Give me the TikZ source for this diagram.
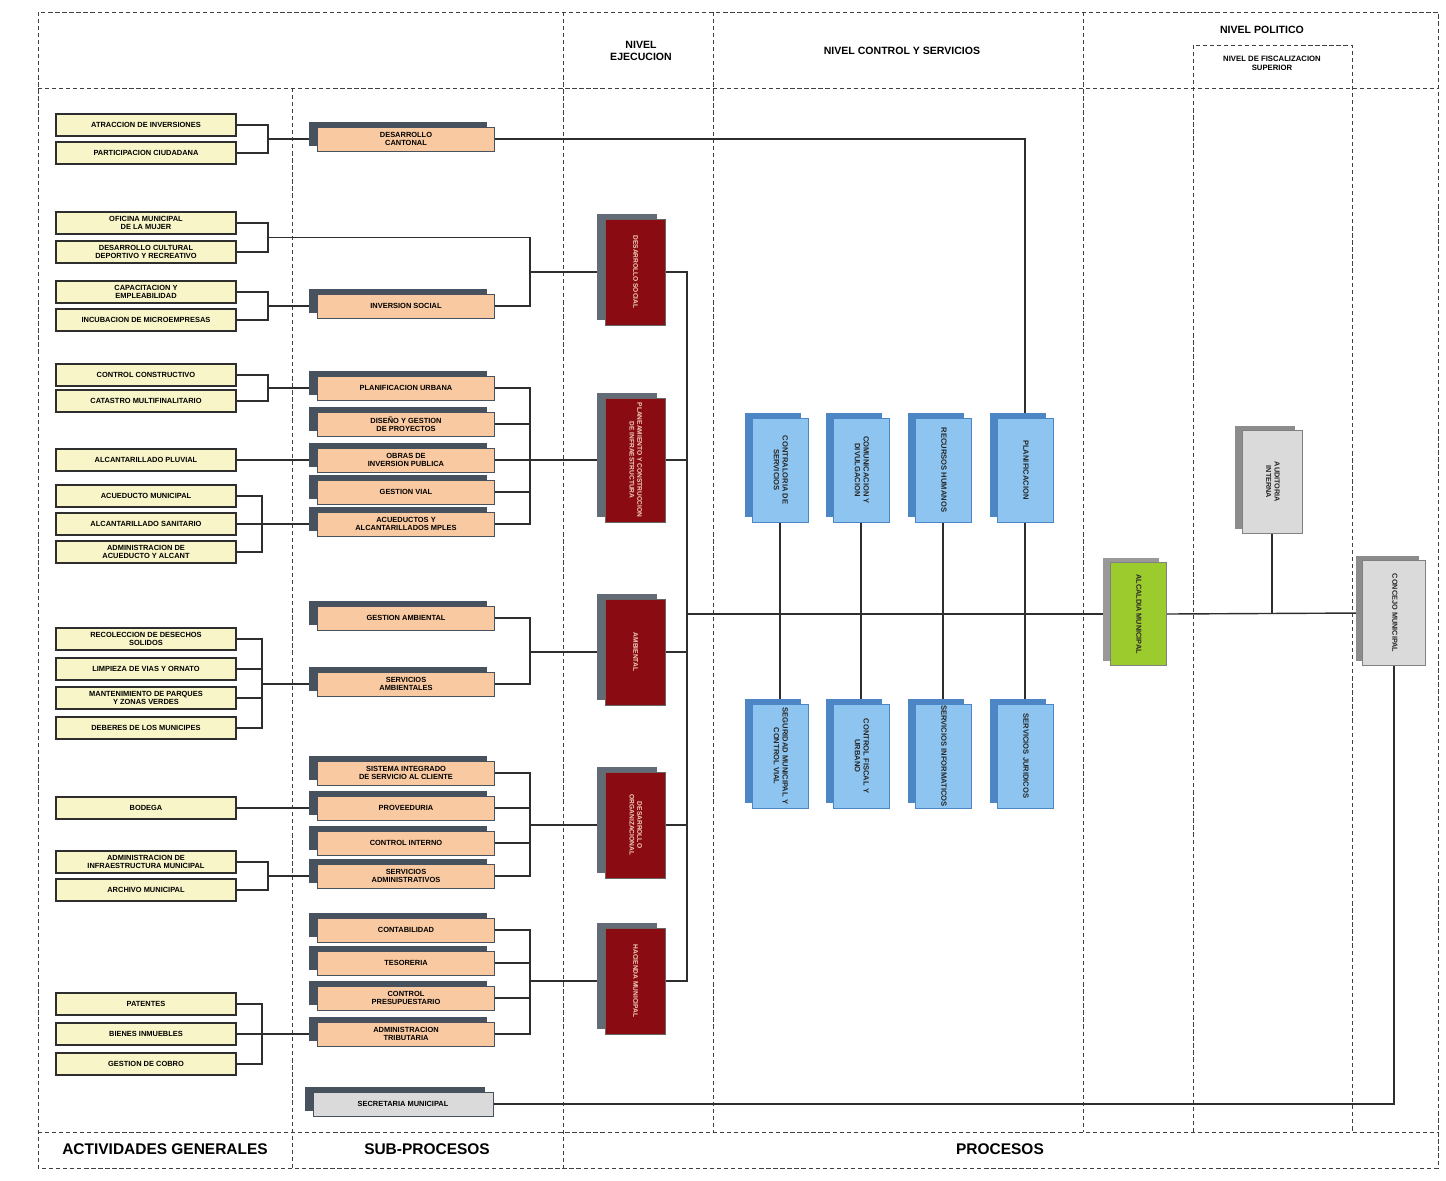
\documentclass[tikz,border=0pt]{standalone}
\usepackage{fontspec}
\setmainfont{Liberation Sans}
\usetikzlibrary{calc,shadows,backgrounds}

\definecolor{cremita}{HTML}{F8F5C8}
\definecolor{durazno}{HTML}{F9C9A1}
\definecolor{pizarra}{HTML}{47525E}
\definecolor{vino}{HTML}{8A0C12}
\definecolor{rosado}{HTML}{F3D2C2}
\definecolor{celeste}{HTML}{8EC5F0}
\definecolor{azulsombra}{HTML}{4D86C4}
\definecolor{lima}{HTML}{9CCB2E}
\definecolor{gris}{HTML}{DADADA}
\definecolor{linea}{HTML}{2E2E2E}

\newcommand{\vtxt}[1]{\rotatebox{-90}{\begin{tabular}{@{}c@{}}#1\end{tabular}}}

\tikzset{
  frame/.style={densely dashed, line width=0.6pt, draw=black!75},
  conn/.style={line width=1pt, draw=linea},
  yellowbox/.style={draw=linea, line width=1.6pt, fill=cremita, minimum width=4.5cm,
    minimum height=0.55cm, inner sep=0pt, align=center,
    font=\fontsize{5.3}{5.6}\selectfont\bfseries},
  subbox/.style={draw=pizarra, line width=0.5pt, fill=durazno, minimum width=4.425cm,
    minimum height=0.6cm, inner sep=0pt, align=center,
    font=\fontsize{5.3}{5.6}\selectfont\bfseries,
    drop shadow={shadow xshift=-0.2cm, shadow yshift=0.12cm, opacity=1, fill=pizarra}},
  redbox/.style={draw=black!60, line width=0.5pt, fill=vino, text=rosado,
    minimum width=1.5cm, minimum height=2.65cm, inner sep=0pt,
    font=\fontsize{4.7}{5.4}\selectfont\bfseries,
    drop shadow={shadow xshift=-0.2cm, shadow yshift=0.12cm, opacity=1, fill=pizarra!85}},
  bluebox/.style={draw=azulsombra, line width=0.5pt, fill=celeste, text=black!85,
    minimum width=1.4cm, minimum height=2.6cm, inner sep=0pt,
    font=\fontsize{5.4}{6.2}\selectfont\bfseries,
    drop shadow={shadow xshift=-0.17cm, shadow yshift=0.12cm, opacity=1, fill=azulsombra}},
  greybox/.style={draw=black!50, line width=0.5pt, fill=gris, text=black!85,
    minimum width=1.5cm, minimum height=2.575cm, inner sep=0pt,
    font=\fontsize{5.2}{6}\selectfont\bfseries,
    drop shadow={shadow xshift=-0.17cm, shadow yshift=0.12cm, opacity=1, fill=black!45}},
  header/.style={align=center, inner sep=1pt, font=\fontsize{7.5}{9}\selectfont\bfseries},
  footer/.style={inner sep=1pt, font=\fontsize{11}{13}\selectfont\bfseries}
}

\begin{document}
\begin{tikzpicture}[x=0.025cm, y=-0.025cm]
\useasboundingbox (0,0) rectangle (1446,1180);

% --- Column titles ---
\node[header] (hEje) at (641,51) {NIVEL\\EJECUCION};
\node[header] (hCon) at (902,51) {NIVEL CONTROL Y SERVICIOS};
\node[header] (hPol) at (1262,30) {NIVEL POLITICO};
\node[header, font=\fontsize{5.5}{6.5}\selectfont\bfseries] (hFis) at (1272,63) {NIVEL DE FISCALIZACION\\SUPERIOR};
\node[footer] (fAct) at (165,1149) {ACTIVIDADES GENERALES};
\node[footer] (fSub) at (427,1149) {SUB-PROCESOS};
\node[footer] (fPro) at (1000,1149) {PROCESOS};

% --- Actividades generales ---
\node[yellowbox] (aInv) at (146,125) {ATRACCION DE INVERSIONES};
\node[yellowbox] (aCiu) at (146,153) {PARTICIPACION CIUDADANA};
\node[yellowbox] (aMuj) at (146,223) {OFICINA MUNICIPAL\\DE LA MUJER};
\node[yellowbox] (aCul) at (146,252) {DESARROLLO CULTURAL\\DEPORTIVO Y RECREATIVO};
\node[yellowbox] (aCap) at (146,292) {CAPACITACION Y\\EMPLEABILIDAD};
\node[yellowbox] (aInc) at (146,320) {INCUBACION DE MICROEMPRESAS};
\node[yellowbox] (aCtr) at (146,375) {CONTROL CONSTRUCTIVO};
\node[yellowbox] (aCat) at (146,401) {CATASTRO MULTIFINALITARIO};
\node[yellowbox] (aPlu) at (146,460) {ALCANTARILLADO PLUVIAL};
\node[yellowbox] (aAcu) at (146,496) {ACUEDUCTO MUNICIPAL};
\node[yellowbox] (aSan) at (146,524) {ALCANTARILLADO SANITARIO};
\node[yellowbox] (aAda) at (146,552) {ADMINISTRACION DE\\ACUEDUCTO Y ALCANT};
\node[yellowbox] (aRec) at (146,639) {RECOLECCION DE DESECHOS\\SOLIDOS};
\node[yellowbox] (aLim) at (146,669) {LIMPIEZA DE VIAS Y ORNATO};
\node[yellowbox] (aPrq) at (146,698) {MANTENIMIENTO DE PARQUES\\Y ZONAS VERDES};
\node[yellowbox] (aDeb) at (146,728) {DEBERES DE LOS MUNICIPES};
\node[yellowbox] (aBod) at (146,808) {BODEGA};
\node[yellowbox] (aInf) at (146,862) {ADMINISTRACION DE\\INFRAESTRUCTURA MUNICIPAL};
\node[yellowbox] (aArc) at (146,890) {ARCHIVO MUNICIPAL};
\node[yellowbox] (aPat) at (146,1004) {PATENTES};
\node[yellowbox] (aBie) at (146,1034) {BIENES INMUEBLES};
\node[yellowbox] (aCob) at (146,1064) {GESTION DE COBRO};

% --- Sub-procesos ---
\node[subbox] (sCan) at (406,139) {DESARROLLO\\CANTONAL};
\node[subbox] (sInv) at (406,306) {INVERSION SOCIAL};
\node[subbox] (sUrb) at (406,388) {PLANIFICACION URBANA};
\node[subbox] (sDis) at (406,424) {DISEÑO Y GESTION\\DE PROYECTOS};
\node[subbox] (sObr) at (406,460) {OBRAS DE\\INVERSION PUBLICA};
\node[subbox] (sVia) at (406,492) {GESTION VIAL};
\node[subbox] (sAcu) at (406,524) {ACUEDUCTOS Y\\ALCANTARILLADOS MPLES};
\node[subbox] (sGam) at (406,618) {GESTION AMBIENTAL};
\node[subbox] (sSam) at (406,684) {SERVICIOS\\AMBIENTALES};
\node[subbox] (sSic) at (406,773) {SISTEMA INTEGRADO\\DE SERVICIO AL CLIENTE};
\node[subbox] (sPro) at (406,808) {PROVEEDURIA};
\node[subbox] (sCin) at (406,843) {CONTROL INTERNO};
\node[subbox] (sSad) at (406,876) {SERVICIOS\\ADMINISTRATIVOS};
\node[subbox] (sCon) at (406,930) {CONTABILIDAD};
\node[subbox] (sTes) at (406,963) {TESORERIA};
\node[subbox] (sPre) at (406,998) {CONTROL\\PRESUPUESTARIO};
\node[subbox] (sTri) at (406,1034) {ADMINISTRACION\\TRIBUTARIA};
\node[subbox, fill=gris, minimum width=4.5cm] (sSec) at (403,1104) {SECRETARIA MUNICIPAL};

% --- Nivel ejecucion ---
\node[redbox] (pSoc) at (635,272) {\vtxt{DESARROLLO SOCIAL}};
\node[redbox, minimum height=3.1cm] (pInf) at (635,460) {\vtxt{PLANEAMIENTO Y CONSTRUCCION\\DE INFRAESTRUCTURA}};
\node[redbox] (pAmb) at (635,652) {\vtxt{AMBIENTAL}};
\node[redbox] (pOrg) at (635,825) {\vtxt{DESARROLLO\\ORGANIZACIONAL}};
\node[redbox] (pHac) at (635,981) {\vtxt{HACIENDA MUNICIPAL}};

% --- Nivel control y servicios ---
\node[bluebox] (cCtr) at (780,470) {\vtxt{CONTRALORIA DE\\SERVICIOS}};
\node[bluebox] (cCom) at (861,470) {\vtxt{COMUNICACION Y\\DIVULGACION}};
\node[bluebox] (cRrh) at (943,470) {\vtxt{RECURSOS HUMANOS}};
\node[bluebox] (cPla) at (1025,470) {\vtxt{PLANIFICACION}};
\node[bluebox] (cSeg) at (780,756) {\vtxt{SEGURIDAD MUNICIPAL Y\\CONTROL VIAL}};
\node[bluebox] (cFis) at (861,756) {\vtxt{CONTROL FISCAL Y\\URBANO}};
\node[bluebox] (cInfo) at (943,756) {\vtxt{SERVICIOS INFORMATICOS}};
\node[bluebox] (cJur) at (1025,756) {\vtxt{SERVICIOS JURIDICOS}};

% --- Nivel politico ---
\node[greybox, fill=lima, draw=black!50, minimum width=1.4cm, drop shadow={shadow xshift=-0.17cm, shadow yshift=0.12cm, opacity=1, fill=black!40}] (alc) at (1138,614) {\vtxt{ALCALDIA MUNICIPAL}};
\node[greybox] (aud) at (1272,482) {\vtxt{AUDITORIA\\INTERNA}};
\node[greybox, minimum width=1.575cm, minimum height=2.625cm] (cjo) at (1394,613) {\vtxt{CONCEJO MUNICIPAL}};

\coordinate (bl) at (268,0);
\coordinate (bl2) at (262,0);
\coordinate (br) at (530,0);
\coordinate (bus) at (687,0);

\begin{pgfonlayer}{background}
% --- Frame ---
\draw[frame] (38,12) rectangle (1438,1168);
\draw[frame] (38,88) -- (1438,88);
\draw[frame] (38,1132) -- (1438,1132);
\draw[frame] (292,88) -- (292,1168);
\draw[frame] (563,12) -- (563,1168);
\draw[frame] (713,12) -- (713,1132);
\draw[frame] (1083,12) -- (1083,1132);
\draw[frame] (1193,1132) -- (1193,45) -- (1352,45) -- (1352,1132);

% --- Desarrollo cantonal ---
\draw[conn] (aInv.east) -| (bl |- aCiu.east) -- (aCiu.east);
\draw[conn] (bl |- sCan.west) -- (sCan.west);
\draw[conn] (sCan.east) -| (cPla.north);

% --- Desarrollo social ---
\coordinate (mMuj) at ($(aMuj.east)!0.5!(aCul.east)$);
\draw[conn] (aMuj.east) -| (bl |- aCul.east) -- (aCul.east);
\draw[conn] (bl |- mMuj) -- (br |- mMuj) -- (br |- sInv.east) -- (sInv.east);
\draw[conn] (aCap.east) -| (bl |- aInc.east) -- (aInc.east);
\draw[conn] (bl |- sInv.west) -- (sInv.west);
\draw[conn] (br |- pSoc.west) -- (pSoc.west);

% --- Infraestructura ---
\draw[conn] (aCtr.east) -| (bl |- aCat.east) -- (aCat.east);
\draw[conn] (bl |- sUrb.west) -- (sUrb.west);
\draw[conn] (aPlu.east) -- (sObr.west);
\draw[conn] (aAcu.east) -| (bl2 |- aAda.east) -- (aAda.east);
\draw[conn] (aSan.east) -- (sAcu.west);
\draw[conn] (sUrb.east) -| (br |- sAcu.east) -- (sAcu.east);
\foreach \n in {sDis,sObr,sVia}
  \draw[conn] (\n.east) -- (br |- \n.east);
\draw[conn] (br |- pInf.west) -- (pInf.west);

% --- Ambiental ---
\draw[conn] (aRec.east) -| (bl2 |- aDeb.east) -- (aDeb.east);
\foreach \n in {aLim,aPrq}
  \draw[conn] (\n.east) -- (bl2 |- \n.east);
\draw[conn] (bl2 |- sSam.west) -- (sSam.west);
\draw[conn] (sGam.east) -| (br |- sSam.east) -- (sSam.east);
\draw[conn] (br |- pAmb.west) -- (pAmb.west);

% --- Organizacional ---
\draw[conn] (aBod.east) -- (sPro.west);
\draw[conn] (aInf.east) -| (bl |- aArc.east) -- (aArc.east);
\draw[conn] (bl |- sSad.west) -- (sSad.west);
\draw[conn] (sSic.east) -| (br |- sSad.east) -- (sSad.east);
\foreach \n in {sPro,sCin}
  \draw[conn] (\n.east) -- (br |- \n.east);
\draw[conn] (br |- pOrg.west) -- (pOrg.west);

% --- Hacienda ---
\draw[conn] (aPat.east) -| (bl2 |- aCob.east) -- (aCob.east);
\draw[conn] (aBie.east) -- (sTri.west);
\draw[conn] (sCon.east) -| (br |- sTri.east) -- (sTri.east);
\foreach \n in {sTes,sPre}
  \draw[conn] (\n.east) -- (br |- \n.east);
\draw[conn] (br |- pHac.west) -- (pHac.west);

% --- Ejecucion to alcaldia ---
\draw[conn] (pSoc.east) -- (bus |- pSoc.east) -- (bus |- pHac.east) -- (pHac.east);
\foreach \n in {pInf,pAmb,pOrg}
  \draw[conn] (\n.east) -- (bus |- \n.east);
\draw[conn] (bus |- alc.west) -- (alc.west);
\draw[conn] (alc.east) -- (cjo.west);
\draw[conn] (aud.south) -- (aud.south |- alc.east);

% --- Control y servicios ---
\draw[conn] (cCtr.south) -- (cSeg.north);
\draw[conn] (cCom.south) -- (cFis.north);
\draw[conn] (cRrh.south) -- (cInfo.north);
\draw[conn] (cPla.south) -- (cJur.north);

% --- Secretaria ---
\draw[conn] (sSec.east) -| (cjo.south);
\end{pgfonlayer}

\end{tikzpicture}
\end{document}
